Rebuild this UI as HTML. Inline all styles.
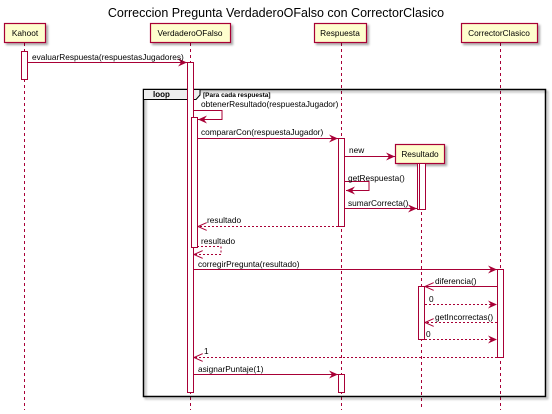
<!DOCTYPE html>
<html><head><style>body{margin:0;background:#fff}svg{display:block}text{font-family:"Liberation Sans",sans-serif;font-size:8.3px;fill:#000}</style></head><body>
<svg width="552" height="414" xmlns="http://www.w3.org/2000/svg">
<defs>
<marker id="a" markerWidth="10" markerHeight="8" refX="9" refY="4" orient="auto" markerUnits="userSpaceOnUse"><path d="M0,0 L9,4 L0,8 L3,4 Z" fill="#A80036"/></marker>
<marker id="o" markerWidth="10" markerHeight="8" refX="9" refY="4" orient="auto" markerUnits="userSpaceOnUse"><path d="M0,0 L9,4 L0,8" fill="none" stroke="#A80036" stroke-width="1"/></marker>
<filter id="sh"><feDropShadow dx="2" dy="2" stdDeviation="1" flood-color="#000" flood-opacity="0.35"/></filter>
</defs>
<text x="276" y="17" text-anchor="middle" style="font-size:12.5px">Correccion Pregunta VerdaderoOFalso con CorrectorClasico</text>
<g stroke="#A80036" stroke-width="1" stroke-dasharray="3,3">
<line x1="24.5" y1="43" x2="24.5" y2="410"/><line x1="190.5" y1="43" x2="190.5" y2="410"/>
<line x1="341.5" y1="43" x2="341.5" y2="410"/><line x1="500.5" y1="43" x2="500.5" y2="410"/>
<line x1="421.5" y1="164" x2="421.5" y2="410"/>
</g>
<g fill="#FEFECE" stroke="#A80036" stroke-width="1.2" filter="url(#sh)">
<rect x="4.5" y="23.5" width="41" height="19"/><rect x="150.5" y="23.5" width="80" height="19"/>
<rect x="314.5" y="23.5" width="52" height="19"/><rect x="461.5" y="23.5" width="76" height="19"/>
<rect x="395.5" y="144.5" width="49" height="19"/>
</g>
<g style="font-size:9.3px">
<text x="25" y="36" text-anchor="middle">Kahoot</text><text x="190" y="36" text-anchor="middle">VerdaderoOFalso</text>
<text x="340" y="36" text-anchor="middle">Respuesta</text><text x="499" y="36" text-anchor="middle">CorrectorClasico</text>
<text x="420" y="157" text-anchor="middle">Resultado</text>
</g>
<rect x="143.5" y="89.5" width="402" height="307" fill="none" stroke="#000" stroke-width="1.5" filter="url(#sh)"/>
<path d="M143.5,89.5 H200 V95 L196,99.5 H143.5 Z" fill="#eee" stroke="#000"/>
<text x="153" y="97" style="font-weight:bold;font-size:8px">loop</text>
<text x="203" y="97" style="font-weight:bold;font-size:6.5px">[Para cada respuesta]</text>
<g fill="#fff" stroke="#A80036" stroke-width="1">
<rect x="21.5" y="51.5" width="6" height="28"/>
<rect x="187.5" y="62.5" width="6" height="330"/>
<rect x="191.5" y="117.5" width="6" height="130"/>
<rect x="338.5" y="138.5" width="6" height="88"/>
<rect x="417.5" y="163.5" width="6" height="46"/>
<rect x="419.5" y="163.5" width="6" height="46"/>
<rect x="497.5" y="269.5" width="6" height="88"/>
<rect x="418.5" y="286.5" width="6" height="53"/>
<rect x="338.5" y="374.5" width="6" height="18"/>
</g>
<g stroke="#A80036" stroke-width="1" fill="none">
<line x1="28" y1="62.5" x2="187" y2="62.5" marker-end="url(#a)"/>
<polyline points="194,110.5 222,110.5 222,119.5 198,119.5" marker-end="url(#a)"/>
<line x1="198" y1="138.5" x2="338" y2="138.5" marker-end="url(#a)"/>
<line x1="345" y1="156.5" x2="395" y2="156.5" marker-end="url(#a)"/>
<polyline points="345,181.5 369,181.5 369,190.5 346,190.5" marker-end="url(#a)"/>
<line x1="345" y1="208.5" x2="417" y2="208.5" marker-end="url(#a)"/>
<line x1="338" y1="226.5" x2="198" y2="226.5" stroke-dasharray="2,2" marker-end="url(#o)"/>
<polyline points="197,246.5 221,246.5 221,254.5 194,254.5" stroke-dasharray="2,2" marker-end="url(#o)"/>
<line x1="194" y1="269.5" x2="497" y2="269.5" marker-end="url(#a)"/>
<line x1="497" y1="286.5" x2="425" y2="286.5" marker-end="url(#o)"/>
<line x1="425" y1="304.5" x2="497" y2="304.5" stroke-dasharray="2,2" marker-end="url(#a)"/>
<line x1="497" y1="322.5" x2="425" y2="322.5" stroke-dasharray="2,2" marker-end="url(#o)"/>
<line x1="425" y1="339.5" x2="497" y2="339.5" stroke-dasharray="2,2" marker-end="url(#a)"/>
<line x1="497" y1="357.5" x2="194" y2="357.5" stroke-dasharray="2,2" marker-end="url(#o)"/>
<line x1="194" y1="374.5" x2="338" y2="374.5" marker-end="url(#a)"/>
</g>
<text x="32" y="60">evaluarRespuesta(respuestasJugadores)</text>
<text x="201" y="107">obtenerResultado(respuestaJugador)</text>
<text x="201" y="135">compararCon(respuestaJugador)</text>
<text x="349" y="153">new</text>
<text x="348" y="181">getRespuesta()</text>
<text x="348" y="206">sumarCorrecta()</text>
<text x="207" y="223">resultado</text>
<text x="201" y="244">resultado</text>
<text x="198" y="267">corregirPregunta(resultado)</text>
<text x="435" y="284">diferencia()</text>
<text x="429" y="302">0</text>
<text x="435" y="320">getIncorrectas()</text>
<text x="426" y="337">0</text>
<text x="204" y="354">1</text>
<text x="198" y="372">asignarPuntaje(1)</text>
</svg>
</body></html>
